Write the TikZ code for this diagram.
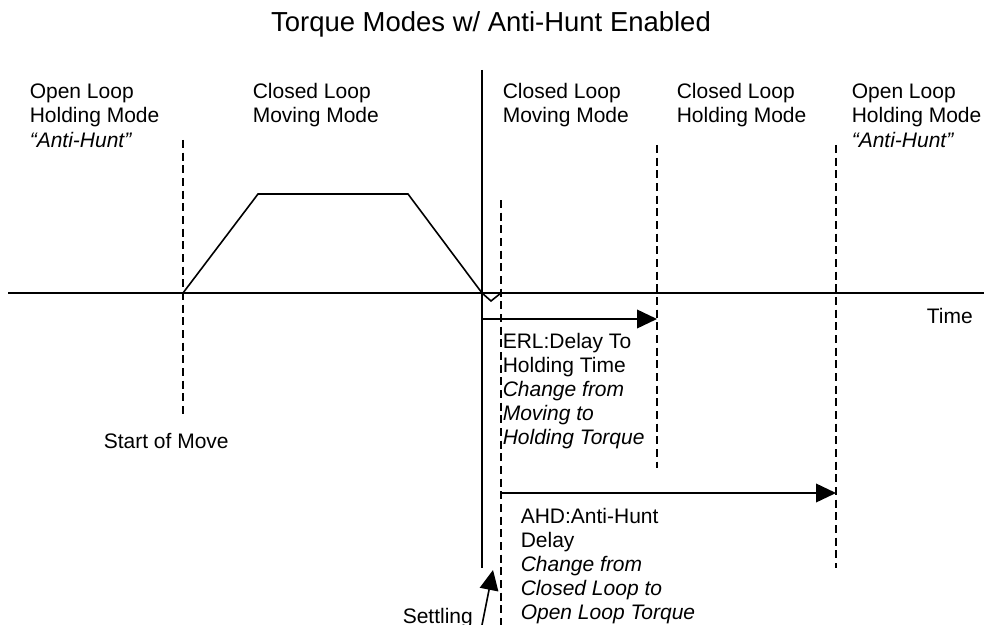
\documentclass[tikz,border=0pt]{standalone}
\usepackage{fontspec}
\setmainfont{Liberation Sans}
\usetikzlibrary{arrows.meta}
\begin{document}
\begin{tikzpicture}[x=0.75pt,y=-0.75pt,line width=1.2pt,
    lbl/.style={anchor=base west,inner sep=0pt,align=left,
      font=\fontsize{15.75}{18}\selectfont},
    phase/.style={line width=1pt,dash pattern=on 6pt off 3.5pt},
    span/.style={-{Triangle[length=15pt,width=14pt]}}]
  \useasboundingbox (0,0) rectangle (984,624);
  \node[anchor=base,inner sep=0pt,font=\fontsize{20.6}{24}\selectfont]
    (title) at (491,32) {Torque Modes w/ Anti-Hunt Enabled};

  % mode labels (anchored on the last line)
  \node[lbl] (olh1) at (29,147) {Open Loop\\Holding Mode\\\textit{“Anti-Hunt”}};
  \node[lbl] (clm1) at (252,123) {Closed Loop\\Moving Mode};
  \node[lbl] (clm2) at (502,123) {Closed Loop\\Moving Mode};
  \node[lbl] (clh) at (676,123) {Closed Loop\\Holding Mode};
  \node[lbl] (olh2) at (851,147) {Open Loop\\Holding Mode\\\textit{“Anti-Hunt”}};
  \node[lbl] (time) at (926,323) {Time};
  \node[lbl] (start) at (103,448) {Start of Move};
  \node[lbl] (erl) at (502,444) {ERL:Delay To\\Holding Time\\
    \textit{Change from}\\\textit{Moving to}\\\textit{Holding Torque}};
  \node[lbl] (ahd) at (520,619) {AHD:Anti-Hunt\\Delay\\
    \textit{Change from}\\\textit{Closed Loop to}\\\textit{Open Loop Torque}};
  \node[lbl] (settling) at (402,623) {Settling};

  % time axis and move profile
  \coordinate (t0) at (8,293);
  \coordinate (t1) at (984,293);
  \draw (t0) -- (t1);
  \coordinate (p0) at (183,293);
  \coordinate (p1) at (258,194);
  \coordinate (p2) at (408,194);
  \coordinate (p3) at (482,293);
  \coordinate (p4) at (491,301);
  \coordinate (p5) at (501,293);
  \draw[line join=miter] (p0) -- (p1) -- (p2) -- (p3) -- (p4) -- (p5);

  % in position
  \coordinate (ip0) at (482,70);
  \coordinate (ip1) at (482,568);
  \draw (ip0) -- (ip1);

  % mode changes
  \coordinate (d1a) at (183,140);
  \coordinate (d1b) at (183,416);
  \coordinate (d2a) at (501,200);
  \coordinate (d2b) at (501,640);
  \coordinate (d3a) at (657,145);
  \coordinate (d3b) at (657,468);
  \coordinate (d4a) at (836,145);
  \coordinate (d4b) at (836,568);
  \draw[phase] (d1a) -- (d1b);
  \draw[phase] (d2a) -- (d2b);
  \draw[phase] (d3a) -- (d3b);
  \draw[phase] (d4a) -- (d4b);

  % delays
  \coordinate (erl0) at (482,319);
  \coordinate (erl1) at (657,319);
  \draw[span] (erl0) -- (erl1);
  \coordinate (ahd0) at (501,493);
  \coordinate (ahd1) at (836,493);
  \draw[span] (ahd0) -- (ahd1);
  \coordinate (st0) at (479,640);
  \coordinate (st1) at (493,570);
  \draw[span] (st0) -- (st1);
\end{tikzpicture}
\end{document}
